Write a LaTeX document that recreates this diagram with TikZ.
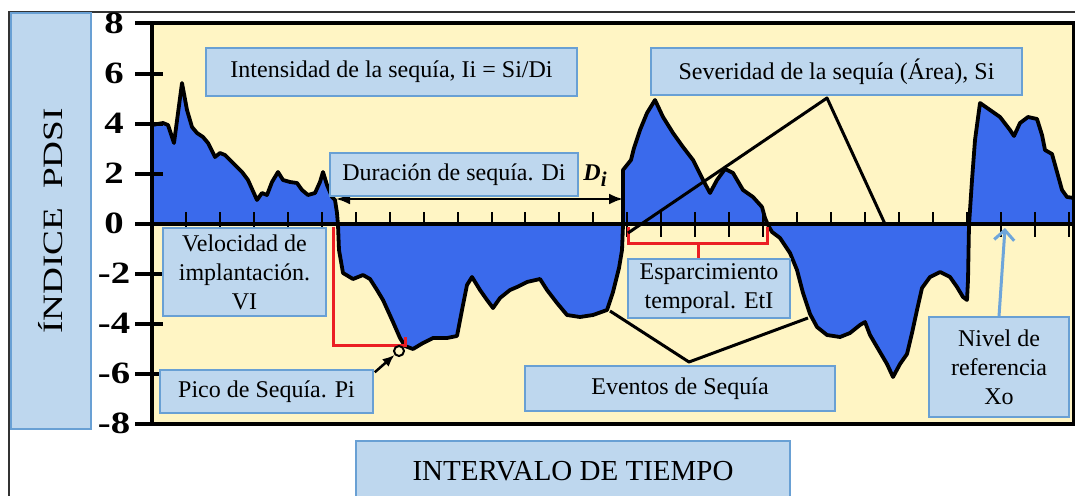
\documentclass[tikz,border=0pt]{standalone}
\usepackage{fontspec}
\setmainfont{Liberation Serif}
\usetikzlibrary{arrows.meta}
\definecolor{plotbg}{RGB}{255,245,196}
\definecolor{deficit}{RGB}{58,106,236}
\definecolor{boxfill}{RGB}{190,215,238}
\definecolor{boxline}{RGB}{105,160,212}
\definecolor{refline}{RGB}{110,165,218}
\definecolor{markred}{RGB}{235,30,35}

\begin{document}
\begin{tikzpicture}[x=1pt,y=-1pt]
        \tikzstyle{infobox}=[draw=boxline,fill=boxfill,line width=1.5pt,inner sep=0pt,align=center,font=\fontsize{24}{29}\selectfont]
        \tikzstyle{ticklabel}=[font=\fontsize{31}{31}\selectfont\bfseries,inner sep=0pt]
        \tikzstyle{xtick}=[line width=2pt]
        \tikzstyle{bracket}=[draw=markred,line width=3pt]
        \useasboundingbox (0,0) rectangle (1075,495);
        \draw[line width=1.5pt,black!80] (9,505) -- (9,12) -- (1085,12);
        \fill[plotbg] (152,24) rectangle (1074,423);
        \foreach \k in {1,...,27}
                \draw[xtick] ({152+33.95*\k},224) -- ({152+33.95*\k},237);
        \filldraw[fill=deficit,draw=black,line width=3.8pt,line join=round]
                (152,224) -- (152,125) -- (163,123) -- (168,125) -- (174,143) -- (182,83) -- (187,110) -- (192,127)
                -- (197,133) -- (203,137) -- (208,143) -- (215,157) -- (220,153) -- (225,155) -- (233,163) -- (242,172)
                -- (248,180) -- (257,200) -- (262,193) -- (267,195) -- (272,182) -- (278,172) -- (283,180) -- (290,182)
                -- (297,183) -- (302,190) -- (308,195) -- (315,193) -- (320,182) -- (323,172) -- (327,185) -- (332,197)
                -- (335,200) -- (337,213) -- (338,225)
                -- (339,250) -- (343,273) -- (353,279) -- (363,275) -- (370,279) -- (377,290) -- (383,300) -- (393,322)
                -- (400,338) -- (405,346) -- (413,349) -- (423,343) -- (433,338) -- (447,338) -- (457,336) -- (462,310)
                -- (467,285) -- (472,277) -- (480,290) -- (487,300) -- (493,308) -- (500,298) -- (510,290) -- (517,287)
                -- (527,282) -- (540,279) -- (547,290) -- (557,303) -- (567,315) -- (580,317) -- (593,315) -- (607,310)
                -- (613,292) -- (619,268) -- (622,250) -- (623,225)
                -- (623,170) -- (627,165) -- (631,160) -- (634,148) -- (640,130) -- (647,113) -- (655,100) -- (663,117)
                -- (673,133) -- (683,147) -- (693,160) -- (703,180) -- (710,193) -- (717,180) -- (725,169) -- (733,173)
                -- (743,190) -- (753,197) -- (762,207) -- (765,218) -- (768,225)
                -- (772,232) -- (780,238) -- (790,253) -- (797,270) -- (803,293) -- (810,314) -- (817,327) -- (827,335)
                -- (840,337) -- (850,333) -- (860,325) -- (865,322) -- (870,335) -- (877,347) -- (887,364) -- (893,377)
                -- (900,364) -- (907,354) -- (912,333) -- (917,310) -- (922,288) -- (930,277) -- (940,272) -- (950,277)
                -- (957,287) -- (963,297) -- (967,300) -- (968,280) -- (969,225)
                -- (972,180) -- (975,140) -- (980,103) -- (990,110) -- (1000,117) -- (1010,130) -- (1014,136) -- (1020,123)
                -- (1028,117) -- (1037,119) -- (1042,135) -- (1045,150) -- (1052,154) -- (1057,172) -- (1062,190)
                -- (1067,197) -- (1074,198) -- (1074,224) -- cycle;
        \foreach \k in {1,...,27}
                \draw[xtick] ({152+33.95*\k},212) -- ({152+33.95*\k},224);
        \draw[line width=4pt] (135,224) -- (1074,224);
        \draw[line width=4pt] (152,423.5) -- (152,23.5) -- (1074,23.5) -- (1074,423.5) -- cycle;
        \foreach \v in {8,6,...,-8} {
                \pgfmathsetmacro\yy{223.5-25*\v}
                \draw[line width=4pt] (135,\yy) -- (163,\yy);
                \node[ticklabel] (tick\v) at (114,\yy) {\scalebox{1.25}[1]{\v}};
        }
        \node[infobox,minimum width=416pt,minimum height=80pt,rotate=90,font=\fontsize{28}{28}\selectfont] (yaxis) at (51,221) {\scalebox{1.33}[1]{ÍNDICE\ \ PDSI}};
        \coordinate (onset) at (336,199);
        \coordinate (recov) at (623,199);
        \coordinate (sevfoot) at (628,233);
        \coordinate (sevtop) at (827,98);
        \coordinate (sevend) at (885,224);
        \coordinate (evleft) at (610,311);
        \coordinate (evlow) at (689,362);
        \coordinate (evright) at (808,318);
        \coordinate (xo) at (1005,228);
        \draw[{Latex[length=14pt,width=11pt]}-{Latex[length=14pt,width=11pt]},line width=2.5pt] (onset) -- (recov);
        \draw[bracket] (333,227) -- (333,345) -- (405,345) -- (405,337);
        \draw[bracket] (628,227) -- (628,243) -- (767,243) -- (767,227);
        \draw[bracket] (698,243) -- (698,259);
        \draw[line width=3pt,line join=round] (sevfoot) -- (sevtop) -- (sevend);
        \draw[line width=3pt,line join=round] (evleft) -- (evlow) -- (evright);
        \node[circle,draw,fill=plotbg,line width=2pt,minimum size=10pt,inner sep=0pt] (peak) at (399,351) {};
        \node (dlabel) at (595,176) {\fontsize{24}{24}\selectfont\bfseries\itshape D\raisebox{-6pt}{\fontsize{21}{21}\selectfont i}};
        \node[infobox,minimum width=371pt,minimum height=48pt] (intens) at (391.5,72) {Intensidad de la sequía, Ii = Si/Di};
        \node[infobox,minimum width=371pt,minimum height=47pt] (sever) at (836.5,71.5) {Severidad de la sequía (Área), Si};
        \node[infobox,minimum width=248pt,minimum height=43pt] (durac) at (454,174.5) {Duración de sequía. Di};
        \node[infobox,minimum width=163pt,minimum height=88pt] (veloc) at (244.5,272) {Velocidad de\\implantación.\\VI};
        \node[infobox,minimum width=213pt,minimum height=43pt] (pico) at (266.5,391.5) {Pico de Sequía. Pi};
        \node[infobox,minimum width=162pt,minimum height=59pt] (espar) at (709,288.5) {Esparcimiento\\temporal. EtI};
        \node[infobox,minimum width=310pt,minimum height=45pt] (eventos) at (680,388.5) {Eventos de Sequía};
        \node[infobox,minimum width=140pt,minimum height=100pt] (nivel) at (999,367) {Nivel de\\referencia\\Xo};
        \node[infobox,minimum width=434pt,minimum height=61pt,font=\fontsize{29}{29}\selectfont] (interv) at (573,471.5) {INTERVALO DE TIEMPO};
        \draw[-{Latex[length=12pt,width=10pt]},line width=2.5pt] ([xshift=1pt,yshift=-3pt]pico.north east) -- (peak);
        \draw[-{Straight Barb[length=10pt,width=20pt]},draw=refline,line width=3pt] (nivel.north) -- (xo);
\end{tikzpicture}
\end{document}
